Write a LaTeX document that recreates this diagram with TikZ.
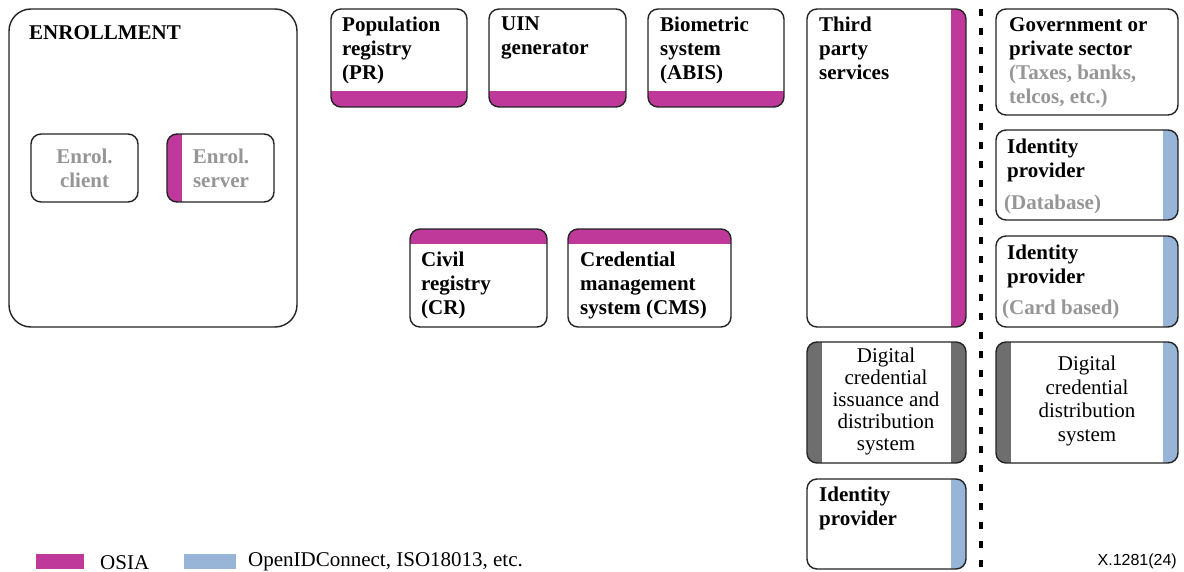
\documentclass[tikz,border=0pt]{standalone}
\usepackage{fontspec}
\setmainfont{Liberation Serif}
\newfontfamily\figsans{Liberation Sans}
\definecolor{osia}{RGB}{191,57,155}
\definecolor{oidc}{RGB}{152,180,214}
\definecolor{dcstrip}{RGB}{110,110,110}
\definecolor{subgray}{RGB}{150,150,150}
\definecolor{edge}{RGB}{35,35,35}

\tikzset{
  box/.style={draw=edge, line width=1.4pt, rounded corners=10pt, fill=white,
    anchor=north west, inner sep=0pt, outer sep=0pt},
  bigbox/.style={box, rounded corners=22pt},
  stripL/.style={path picture={\fill[#1, sharp corners] (path picture bounding box.south west)
    rectangle ([xshift=15pt]path picture bounding box.north west);}},
  stripR/.style={path picture={\fill[#1, sharp corners] ([xshift=-15pt]path picture bounding box.south east)
    rectangle (path picture bounding box.north east);}},
  stripB/.style={path picture={\fill[#1, sharp corners] (path picture bounding box.south west)
    rectangle ([yshift=16pt]path picture bounding box.south east);}},
  stripT/.style={path picture={\fill[#1, sharp corners] ([yshift=-15pt]path picture bounding box.north west)
    rectangle (path picture bounding box.north east);}},
  stripLR/.style 2 args={path picture={
    \fill[#1, sharp corners] (path picture bounding box.south west)
      rectangle ([xshift=15pt]path picture bounding box.north west);
    \fill[#2, sharp corners] ([xshift=-15pt]path picture bounding box.south east)
      rectangle (path picture bounding box.north east);}},
  title/.style={font=\fontsize{21}{24}\selectfont\bfseries, align=left,
    anchor=north west, inner sep=0pt},
  subtitle/.style={font=\fontsize{21}{24}\selectfont\bfseries, text=subgray,
    align=left, anchor=west, inner sep=0pt},
  grayc/.style={font=\fontsize{21}{24}\selectfont\bfseries, text=subgray,
    align=center, inner sep=0pt},
  plain/.style={font=\fontsize{21}{22}\selectfont, align=center, inner sep=0pt},
  legendbox/.style={anchor=north west, inner sep=0pt, outer sep=0pt,
    minimum width=48pt, minimum height=15pt},
  legendtext/.style={font=\fontsize{21}{24}\selectfont, anchor=west, inner sep=0pt},
  separator/.style={line width=4pt, dash pattern=on 7pt off 12pt}
}

\begin{document}
\begin{tikzpicture}[x=1pt,y=-1pt]
\useasboundingbox (0,0) rectangle (1184,572);

% enrollment area
\node[bigbox, minimum width=288pt, minimum height=318pt] (enroll) at (9,9) {};
\node[box, minimum width=107pt, minimum height=68pt] (enclient) at (31,134) {};
\node[box, stripL=osia, minimum width=107pt, minimum height=68pt] (enserver) at (167,134) {};

% registries and core systems
\node[box, stripB=osia, minimum width=136pt, minimum height=98pt] (pr) at (331,9) {};
\node[box, stripB=osia, minimum width=137pt, minimum height=98pt] (uin) at (489,9) {};
\node[box, stripB=osia, minimum width=136pt, minimum height=98pt] (abis) at (648,9) {};
\node[box, stripT=osia, minimum width=137pt, minimum height=98pt] (cr) at (410,229) {};
\node[box, stripT=osia, minimum width=163pt, minimum height=98pt] (cms) at (568,229) {};

% third party column
\node[box, stripR=osia, minimum width=159pt, minimum height=318pt] (tps) at (807,9) {};
\node[box, stripLR={dcstrip}{dcstrip}, minimum width=159pt, minimum height=121pt] (dcids) at (807,342) {};
\node[box, stripR=oidc, minimum width=159pt, minimum height=90pt] (idpb) at (807,479) {};

% relying party column
\node[box, minimum width=182pt, minimum height=106pt] (gov) at (996,9) {};
\node[box, stripR=oidc, minimum width=182pt, minimum height=90pt] (idpdb) at (996,130) {};
\node[box, stripR=oidc, minimum width=182pt, minimum height=91pt] (idpcard) at (996,236) {};
\node[box, stripLR={dcstrip}{oidc}, minimum width=182pt, minimum height=121pt] (dcds) at (996,342) {};

% dotted separator
\coordinate (septop) at (981,9);
\coordinate (sepbot) at (981,570);
\draw[separator] (septop) -- (sepbot);

% labels
\node[title] at (29,25) {ENROLLMENT};
\node[grayc] at (enclient.center) {Enrol.\\client};
\node[grayc] at (221,168) {Enrol.\\server};
\node[title] at (342,17) {Population\\registry\\(PR)};
\node[title] at (501,17) {UIN\\generator};
\node[title] at (660,17) {Biometric\\system\\(ABIS)};
\node[title] at (421,252) {Civil\\registry\\(CR)};
\node[title] at (580,252) {Credential\\management\\system (CMS)};
\node[title] at (819,17) {Third\\party\\services};
\node[plain] at (886,401) {Digital\\credential\\issuance and\\distribution\\system};
\node[title] at (819,487) {Identity\\provider};
\node[title] at (1009,17) {Government or\\private sector\\\textcolor{subgray}{(Taxes, banks,}\\\textcolor{subgray}{telcos, etc.)}};
\node[title] at (1007,139) {Identity\\provider};
\node[subtitle] at (1004,204) {(Database)};
\node[title] at (1007,245) {Identity\\provider};
\node[subtitle] at (1002,309) {(Card based)};
\node[plain, font=\fontsize{21}{23.5}\selectfont] at (1087,401) {Digital\\credential\\distribution\\system};

% legend
\node[legendbox, fill=osia] (lgosia) at (36,554) {};
\node[legendtext] at (100,563) {OSIA};
\node[legendbox, fill=oidc, minimum width=52pt] (lgoidc) at (184,554) {};
\node[legendtext] at (248,562) {OpenIDConnect, ISO18013, etc.};
\node[font=\figsans\fontsize{16}{18}\selectfont, anchor=east, inner sep=0pt] at (1177,561) {X.1281(24)};
\end{tikzpicture}
\end{document}
